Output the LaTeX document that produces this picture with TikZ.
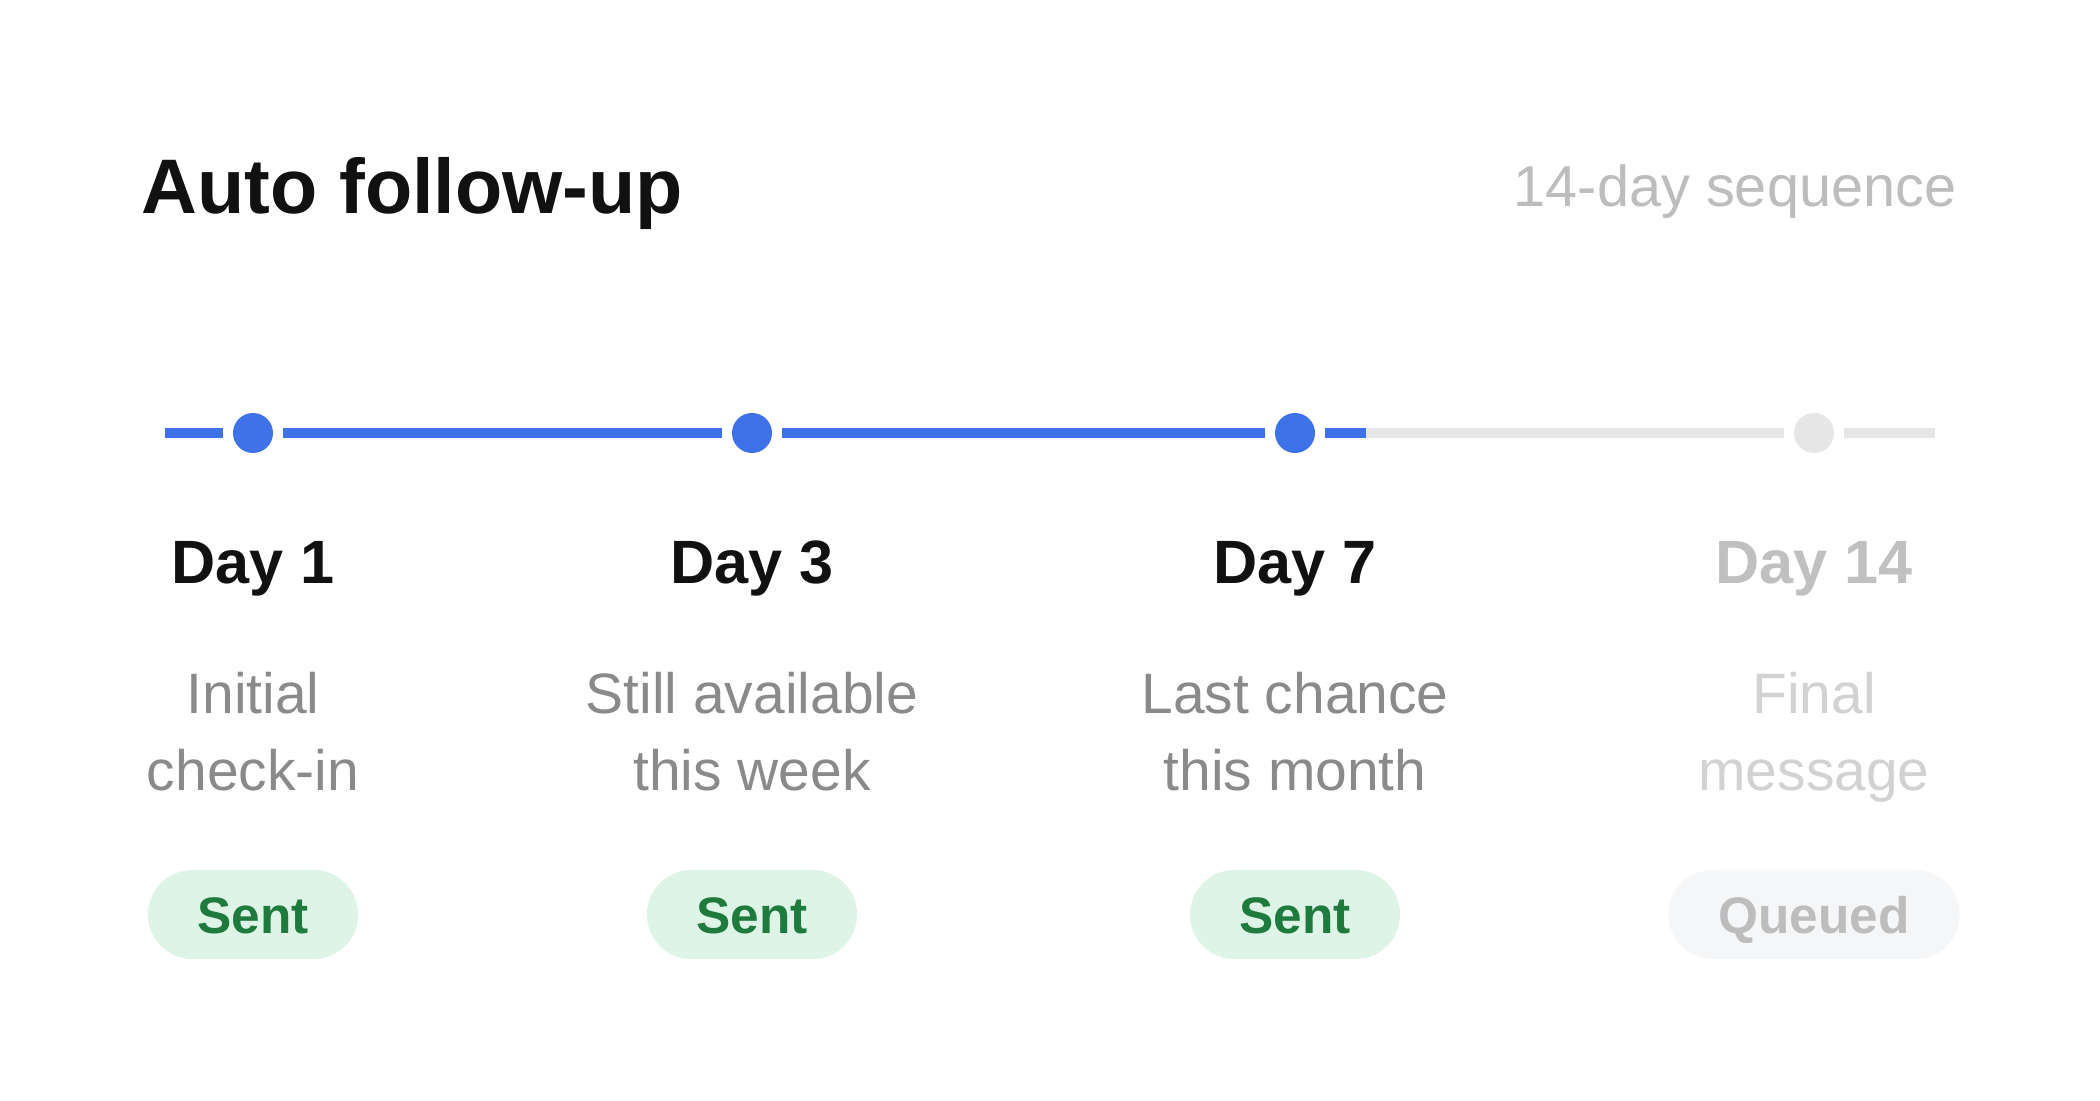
\documentclass[tikz,border=0pt]{standalone}
\usepackage{fontspec}
\setmainfont{Liberation Sans}
\definecolor{ink}{HTML}{111111}
\definecolor{subgray}{HTML}{BDBDBD}
\definecolor{descgray}{HTML}{8A8A8A}
\definecolor{fadegray}{HTML}{D2D2D2}
\definecolor{dayfade}{HTML}{BFC0BF}
\definecolor{progblue}{HTML}{3F72E8}
\definecolor{trackgray}{HTML}{E6E6E6}
\definecolor{sentfill}{HTML}{DDF4E6}
\definecolor{senttext}{HTML}{1F7A3D}
\definecolor{queuefill}{HTML}{F5F6F8}
\begin{document}
\begin{tikzpicture}[x=0.01cm,y=-0.01cm,
  dotnode/.style={circle,draw=none,fill=#1,minimum size=0.4cm,inner sep=0pt,outer sep=0.1cm},
  bline/.style={draw=progblue,line width=0.1cm,line cap=butt},
  gline/.style={draw=trackgray,line width=0.1cm,line cap=butt},
  daylabel/.style={anchor=base,inner sep=0pt,font=\fontsize{17.4}{22}\selectfont\bfseries},
  desc/.style={anchor=base,inner sep=0pt,font=\fontsize{16.2}{22}\selectfont},
  badge/.style={rectangle,rounded corners=0.445cm,minimum height=0.89cm,minimum width=#1,inner sep=0pt,
    text height=0.37cm,text depth=0pt,font=\fontsize{14.6}{18}\selectfont\bfseries},
]
\useasboundingbox (0,0) rectangle (2100,1100);
\fill[white] (0,0) rectangle (2100,1100);

% header
\node[anchor=base west,inner sep=0pt,text=ink,font=\fontsize{22}{26}\selectfont\bfseries] (title) at (141,213) {Auto follow-up};
\node[anchor=base east,inner sep=0pt,text=subgray,font=\fontsize{16.4}{20}\selectfont] (seq) at (1957,206) {14-day sequence};

% timeline
\coordinate (s) at (165,433);
\coordinate (p) at (1366,433);
\coordinate (e) at (1935,433);
\node[dotnode=progblue] (n1) at (253,433) {};
\node[dotnode=progblue] (n2) at (752,433) {};
\node[dotnode=progblue] (n3) at (1295,433) {};
\node[dotnode=trackgray] (n4) at (1814,433) {};
\draw[bline] (s) -- (n1);
\draw[bline] (n1) -- (n2);
\draw[bline] (n2) -- (n3);
\draw[bline] (n3) -- (p);
\draw[gline] (p) -- (n4);
\draw[gline] (n4) -- (e);

% day labels
\node[daylabel,text=ink] (d1) at (253,583) {Day 1};
\node[daylabel,text=ink] (d2) at (752,583) {Day 3};
\node[daylabel,text=ink] (d3) at (1295,583) {Day 7};
\node[daylabel,text=dayfade] (d4) at (1814,583) {Day 14};

% descriptions
\node[desc,text=descgray] (t1a) at (253,713) {Initial};
\node[desc,text=descgray] (t1b) at (253,790) {check-in};
\node[desc,text=descgray] (t2a) at (752,713) {Still available};
\node[desc,text=descgray] (t2b) at (752,790) {this week};
\node[desc,text=descgray] (t3a) at (1295,713) {Last chance};
\node[desc,text=descgray] (t3b) at (1295,790) {this month};
\node[desc,text=fadegray] (t4a) at (1814,713) {Final};
\node[desc,text=fadegray] (t4b) at (1814,790) {message};

% badges
\node[badge=2.10cm,fill=sentfill,text=senttext] (b1) at (253,914.5) {Sent};
\node[badge=2.10cm,fill=sentfill,text=senttext] (b2) at (752,914.5) {Sent};
\node[badge=2.10cm,fill=sentfill,text=senttext] (b3) at (1295,914.5) {Sent};
\node[badge=2.91cm,fill=queuefill,text=subgray] (b4) at (1814,914.5) {Queued};
\end{tikzpicture}
\end{document}
